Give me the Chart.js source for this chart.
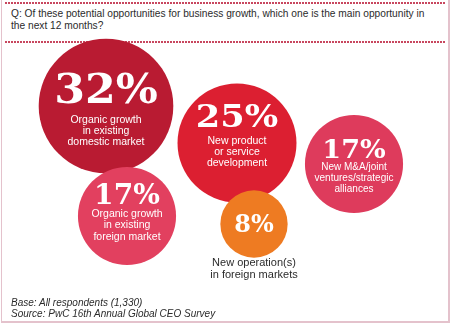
<!DOCTYPE html>
<html>
<head>
<meta charset="utf-8">
<script src="https://cdn.jsdelivr.net/npm/chart.js@4.4.1/dist/chart.umd.min.js"></script>
<style>
    html, body { margin: 0; padding: 0; background: #ffffff; }
    .marco {
        position: relative;
        width: 446px;
        height: 321px;
        margin: 0 0 0 1px;
        border-left: 1px solid #e4c2cc;
        border-right: 2px solid #e4c2cc;
        border-bottom: 2px solid #e4c2cc;
        font-family: "Liberation Sans", Arial, sans-serif;
        color: #2b2b2b;
        overflow: hidden;
    }
    .puntos {
        position: absolute;
        left: 3px;
        right: 3px;
        height: 2px;
        background: repeating-linear-gradient(90deg, #c8475f 0 2px, transparent 2px 3px);
    }
    .pregunta {
        position: absolute;
        left: 9px;
        top: 8px;
        font-size: 10.2px;
        line-height: 11.5px;
    }
    .pie {
        position: absolute;
        left: 9px;
        top: 297px;
        font-size: 10px;
        line-height: 11px;
        font-style: italic;
    }
    canvas { position: absolute; left: -2px; top: 0; }
</style>
</head>
<body>
<div class="marco">
    <div class="puntos" style="top:2px"></div>
    <div class="pregunta">Q: Of these potential opportunities for business growth, which one is the main opportunity in<br>the next 12 months?</div>
    <div class="puntos" style="top:41px"></div>
    <canvas id="graficoBurbujas" width="450" height="324"></canvas>
    <div class="pie">Base: All respondents (1,330)<br>Source: PwC 16th Annual Global CEO Survey</div>
</div>

<script>
// ================== DATOS ==================

const categorias = [
    ["Organic growth", "in existing", "domestic market"],
    ["New product", "or service", "development"],
    ["New M&A/joint", "ventures/strategic", "alliances"],
    ["Organic growth", "in existing", "foreign market"],
    ["New operation(s)", "in foreign markets"]
];
const porcentajes = [32, 25, 17, 17, 8];

// centro de cada burbuja en unidades del grafico (0-450 x 0-324)
const posicionX = [106, 237, 354, 127, 254];
const posicionY = [106, 143, 164, 216, 224];

// ================== ESTILOS ==================

const COLORES = ["#b91b32", "#dc1f31", "#de3b5c", "#e2405f", "#ee7b22"];
const ESCALA_RADIO = 11.9;   // radio = escala * raiz(valor), area proporcional

// tamano del porcentaje, linea base, estiramiento, tamano etiqueta, primera linea, paso
const TEXTOS = [
    { pct: 41, base: -3,  ancho: 1.08, etq: 10.5, ini: 14, paso: 11,   color: "#ffffff" },
    { pct: 32, base: -16, ancho: 1.1,  etq: 10.5, ini: -2, paso: 11,   color: "#ffffff" },
    { pct: 26, base: -6,  ancho: 1.04, etq: 10,   ini: 3,  paso: 11,   color: "#ffffff" },
    { pct: 27, base: -12, ancho: 1.04, etq: 10.5, ini: -2, paso: 11.5, color: "#ffffff" },
    { pct: 24, base: 8,   ancho: 1.0,  etq: 11,   ini: 39, paso: 12,   color: "#2b2b2b" }
];

// rellenos con un leve brillo arriba a la izquierda
function relleno(context) {
    const i = context.dataIndex;
    const el = context.element;
    if (!el || el.x === undefined) return COLORES[i];
    const r = el.options?.radius || 40;
    const g = context.chart.ctx.createRadialGradient(el.x - r * 0.3, el.y - r * 0.35, 0, el.x, el.y, r * 1.05);
    g.addColorStop(0, Chart.helpers.color(COLORES[i]).lighten(0.08).hexString());
    g.addColorStop(1, COLORES[i]);
    return g;
}

const textosBurbuja = {
    id: "textosBurbuja",
    afterDatasetsDraw(chart) {
        const ctx = chart.ctx;
        const meta = chart.getDatasetMeta(0);
        meta.data.forEach((el, i) => {
            const t = TEXTOS[i];
            ctx.save();
            ctx.textAlign = "center";
            ctx.fillStyle = "#ffffff";
            ctx.textBaseline = "alphabetic";
            ctx.font = `bold ${t.pct}px "DejaVu Serif", Georgia, serif`;
            ctx.save();
            ctx.translate(el.x, el.y + t.base);
            ctx.scale(t.ancho, 1);
            ctx.fillText(porcentajes[i] + "%", 0, 0);
            ctx.restore();

            ctx.fillStyle = t.color;
            ctx.textBaseline = "middle";
            ctx.font = `${t.etq}px "Liberation Sans", Arial, sans-serif`;
            categorias[i].forEach((linea, j) => {
                ctx.fillText(linea, el.x, el.y + t.ini + j * t.paso);
            });
            ctx.restore();
        });
    }
};

new Chart(document.getElementById("graficoBurbujas"), {
    type: "bubble",
    data: {
        datasets: [{
            label: "Oportunidades",
            data: porcentajes.map((v, i) => ({
                x: posicionX[i],
                y: posicionY[i],
                r: ESCALA_RADIO * Math.sqrt(v)
            })),
            backgroundColor: relleno,
            borderWidth: 0,
            hoverBorderWidth: 0,
            clip: false
        }]
    },
    options: {
        responsive: false,
        animation: false,
        events: [],
        layout: { padding: 0, autoPadding: false },
        plugins: {
            legend: { display: false },
            tooltip: { enabled: false }
        },
        scales: {
            x: { type: "linear", min: 0, max: 450, display: false },
            y: { type: "linear", min: 0, max: 324, reverse: true, display: false }
        }
    },
    plugins: [textosBurbuja]
});
</script>
</body>
</html>
